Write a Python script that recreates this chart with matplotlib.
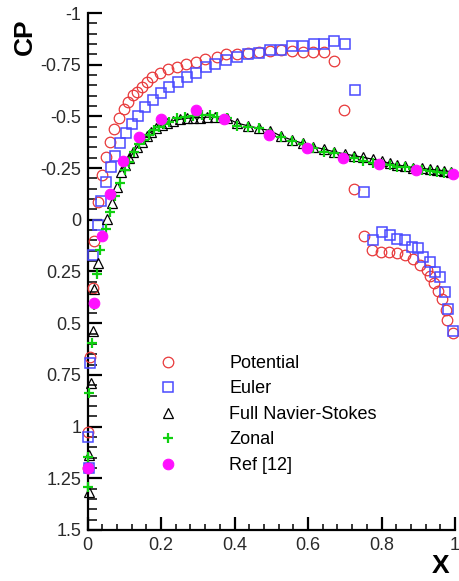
import matplotlib
matplotlib.use("Agg")
import matplotlib.pyplot as plt
from matplotlib.ticker import MultipleLocator, FixedLocator

plt.rcParams['font.family'] = ['Liberation Sans', 'DejaVu Sans']

# ---------------- data ----------------
pot_x = [0.002, 0.002, 0.007, 0.015, 0.018, 0.029, 0.039, 0.050, 0.061, 0.073, 0.087, 0.099,
         0.111, 0.123, 0.136, 0.147, 0.161, 0.175, 0.197, 0.220, 0.243, 0.268, 0.294, 0.320,
         0.352, 0.377, 0.406, 0.436, 0.467, 0.497, 0.526, 0.556, 0.586, 0.614, 0.644, 0.671,
         0.699, 0.726, 0.752, 0.774, 0.798, 0.821, 0.843, 0.864, 0.886, 0.905, 0.923, 0.932,
         0.943, 0.954, 0.964, 0.976, 0.979, 0.994]
pot_cp = [1.200, 1.025, 0.662, 0.330, 0.103, -0.086, -0.217, -0.305, -0.376, -0.438, -0.491, -0.534,
          -0.571, -0.602, -0.619, -0.641, -0.668, -0.692, -0.711, -0.728, -0.740, -0.752, -0.763, -0.778,
          -0.789, -0.802, -0.802, -0.805, -0.813, -0.818, -0.821, -0.818, -0.813, -0.813, -0.813, -0.769,
          -0.531, -0.147, 0.078, 0.146, 0.157, 0.157, 0.162, 0.170, 0.191, 0.219, 0.243, 0.272,
          0.307, 0.343, 0.384, 0.436, 0.485, 0.549]

eul_x = [0.002, 0.005, 0.008, 0.016, 0.028, 0.036, 0.049, 0.063, 0.075, 0.088, 0.104, 0.120,
         0.138, 0.156, 0.177, 0.200, 0.223, 0.247, 0.270, 0.294, 0.322, 0.347, 0.377, 0.408,
         0.438, 0.467, 0.497, 0.526, 0.556, 0.586, 0.616, 0.644, 0.671, 0.701, 0.728, 0.752,
         0.778, 0.800, 0.823, 0.841, 0.864, 0.882, 0.900, 0.914, 0.932, 0.946, 0.959, 0.973,
         0.982, 0.994]
eul_cp = [1.049, 1.200, 0.692, 0.170, 0.025, -0.092, -0.183, -0.254, -0.310, -0.370, -0.418, -0.463,
          -0.502, -0.544, -0.579, -0.612, -0.641, -0.668, -0.692, -0.711, -0.737, -0.753, -0.773, -0.789,
          -0.802, -0.808, -0.821, -0.821, -0.840, -0.840, -0.850, -0.850, -0.866, -0.850, -0.628, -0.136,
          0.098, 0.060, 0.073, 0.094, 0.098, 0.130, 0.138, 0.178, 0.203, 0.251, 0.278, 0.348,
          0.433, 0.536]

ns_x = [0.005, 0.005, 0.010, 0.015, 0.019, 0.029, 0.052, 0.066, 0.079, 0.090, 0.102, 0.114,
        0.125, 0.136, 0.147, 0.161, 0.173, 0.186, 0.202, 0.217, 0.233, 0.252, 0.270, 0.288,
        0.306, 0.324, 0.347, 0.379, 0.408, 0.438, 0.467, 0.497, 0.526, 0.556, 0.586, 0.614,
        0.644, 0.671, 0.701, 0.725, 0.750, 0.776, 0.801, 0.823, 0.843, 0.864, 0.887, 0.909,
        0.932, 0.952, 0.970, 0.988]
ns_cp = [1.315, 1.137, 0.787, 0.538, 0.337, 0.207, -0.005, -0.081, -0.157, -0.233, -0.265, -0.297,
         -0.326, -0.353, -0.378, -0.405, -0.426, -0.445, -0.458, -0.470, -0.479, -0.486, -0.491, -0.494,
         -0.494, -0.496, -0.496, -0.491, -0.467, -0.454, -0.442, -0.431, -0.405, -0.386, -0.370, -0.353,
         -0.341, -0.329, -0.318, -0.310, -0.302, -0.293, -0.283, -0.273, -0.265, -0.260, -0.252, -0.249,
         -0.244, -0.241, -0.237, -0.233]
ns_line_start = 9  # NS points from here on are also joined by a thin line

zon_x = [0.000, 0.000, 0.005, 0.011, 0.018, 0.027, 0.035, 0.049, 0.060, 0.076, 0.088, 0.102,
         0.114, 0.127, 0.141, 0.154, 0.168, 0.181, 0.195, 0.208, 0.223, 0.244, 0.265, 0.288,
         0.311, 0.333, 0.353, 0.379, 0.408, 0.438, 0.467, 0.497, 0.526, 0.556, 0.586, 0.614,
         0.644, 0.671, 0.701, 0.725, 0.750, 0.776, 0.801, 0.823, 0.843, 0.864, 0.887, 0.909,
         0.932, 0.952, 0.970, 0.988]
zon_cp = [1.291, 1.149, 0.838, 0.597, 0.412, 0.262, 0.146, 0.044, -0.039, -0.113, -0.180, -0.241,
          -0.281, -0.329, -0.367, -0.386, -0.410, -0.434, -0.447, -0.463, -0.474, -0.491, -0.496, -0.502,
          -0.507, -0.507, -0.499, -0.491, -0.454, -0.450, -0.442, -0.421, -0.402, -0.382, -0.367, -0.346,
          -0.329, -0.324, -0.305, -0.297, -0.286, -0.276, -0.270, -0.265, -0.257, -0.254, -0.244, -0.241,
          -0.237, -0.233, -0.228, -0.225]

ref_x = [0.002, 0.018, 0.039, 0.061, 0.097, 0.140, 0.199, 0.295, 0.371, 0.495, 0.596, 0.694,
         0.794, 0.894, 0.994]
ref_cp = [1.202, 0.401, 0.078, -0.125, -0.286, -0.399, -0.486, -0.531, -0.486, -0.410, -0.346, -0.297,
          -0.268, -0.241, -0.221]

series_labels = ["Potential", "Euler", "Full Navier-Stokes", "Zonal", "Ref [12]"]
x_ticks = [0, 0.2, 0.4, 0.6, 0.8, 1]
x_tick_labels = ["0", "0.2", "0.4", "0.6", "0.8", "1"]
y_ticks = [-1, -0.75, -0.5, -0.25, 0, 0.25, 0.5, 0.75, 1, 1.25, 1.5]
y_tick_labels = ["-1", "-0.75", "-0.5", "-0.25", "0", "0.25", "0.5", "0.75", "1", "1.25", "1.5"]

# ---------------- figure ----------------
W, H = 459, 581
fig = plt.figure(figsize=(W / 100, H / 100), dpi=100)
left, right, top, bottom = 87.5, 455.0, 13.0, 530.0
ax = fig.add_axes([left / W, 1 - bottom / H, (right - left) / W, (bottom - top) / H])

red = '#e8383a'
blue = '#4a4aff'
green = '#10d010'
mag = '#ff10ff'

ax.plot(pot_x, pot_cp, linestyle='none', marker='o', ms=7.6, mfc='none', mec=red, mew=0.9,
        clip_on=False, label=series_labels[0], zorder=3)
ax.plot(eul_x, eul_cp, linestyle='none', marker='s', ms=7.0, mfc='none', mec=blue, mew=1.1,
        clip_on=False, label=series_labels[1], zorder=3)
ax.plot(ns_x[ns_line_start:], ns_cp[ns_line_start:], color='black', lw=0.9,
        label='_nolegend_', zorder=4)
ax.plot(ns_x, ns_cp, linestyle='none', marker='^', ms=7.6, mfc='none', mec='black', mew=0.9,
        clip_on=False, label=series_labels[2], zorder=4)
ax.plot(zon_x, zon_cp, linestyle='none', marker='+', ms=7.0, mec=green, mew=1.6,
        clip_on=False, label=series_labels[3], zorder=5)
ax.plot(ref_x, ref_cp, linestyle='none', marker='o', ms=7.6, mfc=mag, mec=mag, mew=0.8,
        clip_on=False, label=series_labels[4], zorder=6)

ax.set_xlim(0, 1)
ax.set_ylim(1.5, -1)

ax.spines['top'].set_visible(False)
ax.spines['right'].set_visible(False)
for s in ('left', 'bottom'):
    ax.spines[s].set_linewidth(1.6)

ax.xaxis.set_major_locator(FixedLocator(x_ticks))
ax.set_xticklabels(x_tick_labels)
ax.xaxis.set_minor_locator(MultipleLocator(0.04))
ax.yaxis.set_major_locator(FixedLocator(y_ticks))
ax.set_yticklabels(y_tick_labels)
ax.yaxis.set_minor_locator(MultipleLocator(0.05))

tick_col = '#2a2a2a'
ax.tick_params(axis='both', which='both', direction='in', colors='black', labelcolor=tick_col,
               labelsize=13)
ax.tick_params(axis='x', which='major', length=9.5, width=1.6, pad=5)
ax.tick_params(axis='x', which='minor', length=4.5, width=1.1)
ax.tick_params(axis='y', which='major', length=10, width=1.6, pad=4.5)
ax.tick_params(axis='y', which='minor', length=6.5, width=1.1)

fig.text(25 / W, 1 - 37 / H, "CP", rotation=90, fontsize=19, fontweight='bold',
         ha='center', va='center', family=['Liberation Sans Narrow', 'Liberation Sans'])
fig.text(441 / W, 1 - 566 / H, "X", fontsize=19, fontweight='bold',
         ha='center', va='center', family=['Liberation Sans Narrow', 'Liberation Sans'])

leg = ax.legend(loc='upper left', bbox_to_anchor=((159 - left) / (right - left), (bottom - 355) / (bottom - top)),
                frameon=False, fontsize=13, handlelength=1.0, handletextpad=2.9,
                labelspacing=0.47, borderpad=0, borderaxespad=0, numpoints=1)

fig.savefig("out.png", dpi=100)
